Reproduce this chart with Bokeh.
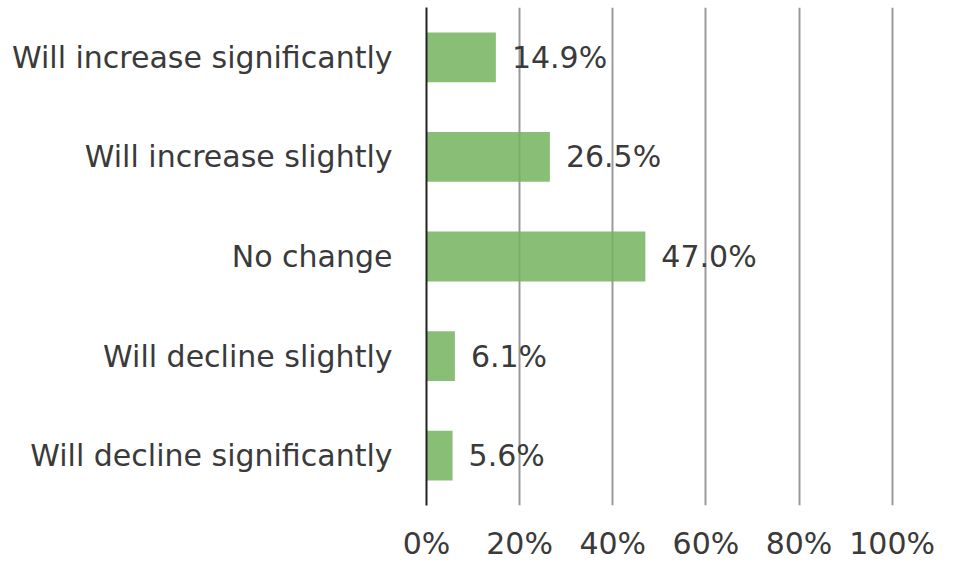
from bokeh.plotting import figure
from bokeh.models import ColumnDataSource, FactorRange, FixedTicker, PrintfTickFormatter
from bokeh.embed import file_html
from bokeh.resources import INLINE
from bokeh.core.properties import value

categories = ["Will increase significantly", "Will increase slightly", "No change",
              "Will decline slightly", "Will decline significantly"]
values = [14.9, 26.5, 47.0, 6.1, 5.6]
labels = ["14.9%", "26.5%", "47.0%", "6.1%", "5.6%"]
x_ticks = [0, 20, 40, 60, 80, 100]

FONT = "DejaVu Sans"
FS = "30px"
TXT = "#3a3a3a"

src = ColumnDataSource(dict(cat=categories, val=values, lab=labels))

p = figure(width=938, height=563, output_backend="svg", toolbar_location=None,
           x_range=(0, 100.5), y_range=FactorRange(*reversed(categories)),
           min_border_left=426, min_border_right=44, min_border_top=7, min_border_bottom=58)
p.outline_line_color = None

p.hbar(y="cat", right="val", height=0.5, source=src,
       fill_color="#74b35e", fill_alpha=0.85, line_color=None)

p.text(x="val", y="cat", text="lab", source=src, x_offset=16,
       text_align="left", text_baseline="middle",
       text_font=value(FONT), text_font_size=FS, text_color=TXT)

p.xgrid.ticker = FixedTicker(ticks=[20, 40, 60, 80, 100])
p.xgrid.grid_line_color = "#9a9a9a"
p.xgrid.grid_line_width = 2
p.ygrid.grid_line_color = None

p.xaxis.ticker = FixedTicker(ticks=x_ticks)
p.xaxis.formatter = PrintfTickFormatter(format="%d%%")
p.xaxis.axis_line_color = None
p.xaxis.major_tick_line_color = None
p.xaxis.minor_tick_line_color = None
p.xaxis.major_tick_out = 0
p.xaxis.major_tick_in = 0
p.xaxis.major_label_standoff = 20
p.xaxis.major_label_text_font = FONT
p.xaxis.major_label_text_font_size = FS
p.xaxis.major_label_text_color = TXT

p.yaxis.axis_line_color = "#222222"
p.yaxis.axis_line_width = 2
p.yaxis.major_tick_line_color = None
p.yaxis.minor_tick_line_color = None
p.yaxis.major_tick_out = 0
p.yaxis.major_tick_in = 0
p.yaxis.major_label_standoff = 34
p.yaxis.major_label_text_font = FONT
p.yaxis.major_label_text_font_size = FS
p.yaxis.major_label_text_color = TXT

open("out.html", "w").write(file_html(p, INLINE))
